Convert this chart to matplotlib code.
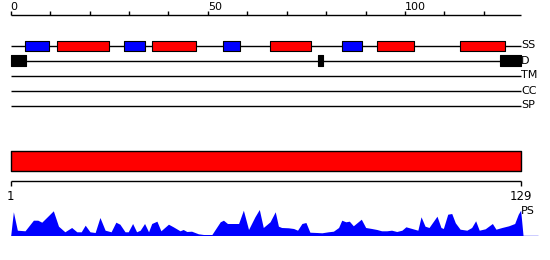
import matplotlib
matplotlib.use("Agg")
from matplotlib import pyplot as plt

# secondary structure segments (start, end) on the top ruler
helix = [(11.8, 24.9), (35.9, 46.9), (65.8, 76.1), (93.0, 102.2), (114.0, 125.3)]
strand = [(3.7, 9.8), (28.8, 34.0), (53.8, 58.1), (84.0, 89.0)]
disorder = [(0.0, 3.8), (78.0, 79.2), (124.1, 129.4)]
track_names = ["SS", "D", "TM", "CC", "SP"]
ruler_end = 129.4
ruler_ticks = list(range(0, 130, 10))
ruler_labels = [0, 50, 100]

# sequence range and per-residue profile (PS)
seq_start, seq_end = 1, 129
ps_pos = [1.0, 1.67, 2.67, 4.6, 6.7, 7.8, 8.8, 10.0, 11.7, 13.0, 14.6, 16.3, 17.6, 18.7,
          19.7, 20.9, 22.2, 23.4, 24.7, 26.2, 27.4, 28.4, 29.7, 30.5, 31.6, 32.6, 33.5,
          34.6, 35.6, 36.4, 37.7, 38.7, 40.6, 41.8, 43.5, 44.3, 45.2, 46.4, 48.1, 49.4,
          51.5, 53.6, 54.4, 55.4, 56.9, 58.2, 59.4, 60.7, 62.3, 63.4, 64.4, 66.1, 67.4,
          68.2, 69.0, 70.7, 72.0, 73.0, 74.1, 75.1, 76.1, 77.8, 79.1, 80.7, 82.0, 83.3,
          84.1, 85.1, 86.0, 87.0, 89.0, 90.1, 91.6, 92.9, 94.1, 95.4, 96.6, 97.9, 99.2,
          100.2, 101.7, 103.2, 104.0, 105.0, 106.0, 108.0, 109.0, 109.6, 110.7, 111.7,
          112.6, 113.8, 115.5, 116.7, 117.7, 118.6, 120.1, 121.9, 122.8, 124.3, 126.0,
          127.5, 128.4, 129.0, 129.6]
ps_val = [0, 23.7, 5.3, 4.7, 15.3, 15.3, 13.3, 18, 24.7, 9.3, 3.7, 8, 3.7, 3.7,
          10.3, 3.7, 3, 18, 5.3, 3.7, 13.3, 11.3, 3.7, 3.7, 12, 3.7, 5.3,
          12, 3.7, 12, 14.3, 4.7, 11.3, 8.7, 4.7, 6, 4, 4.3, 1.7, 1,
          1, 13.7, 15.3, 12, 12, 12, 25.3, 6, 18.7, 26, 8, 13.7, 23.7,
          9.3, 8, 7.7, 7, 5.3, 12, 13, 3.3, 3, 2.7, 3.7, 4.3, 8,
          15.3, 13.7, 14.3, 9.7, 16.3, 8, 7, 6, 4.7, 4.7, 5.3, 4, 5.3,
          8.7, 7, 5.3, 18.7, 9.3, 8, 19.3, 8, 7, 21.3, 22,
          12.7, 6.3, 5.3, 8, 14.7, 5.3, 6.7, 12, 6.3, 8, 9.7,
          12, 21.3, 25.3, 0]
ps_line_end = 133.4

W, H = 550, 260
fig = plt.figure(figsize=(W / 100, H / 100), dpi=100)

# top panel: ruler + tracks, y in pixel rows
ax = fig.add_axes([0, 0, 1, 1])
px = 3.943
ax.set_xlim(-10.7 / px, (W - 10.7) / px)
ax.set_ylim(H, 0)
ax.axis("off")

ax.hlines(15, 0, ruler_end, color="black", lw=1)
ax.vlines(ruler_ticks, 10.5, 15, color="black", lw=1)
for t in ruler_labels:
    ax.text(t, 11.5, str(t), ha="left", va="bottom", fontsize=8, color="black")

rows = [45.5, 60.5, 75.5, 90.5, 105.5]
for name, y in zip(track_names, rows):
    ax.hlines(y, 0, ruler_end, color="black", lw=1, zorder=1)
    ax.text(ruler_end, y, name, ha="left", va="center", fontsize=8)

ax.broken_barh([(a, b - a) for a, b in strand], (40.5, 10), facecolor="#0000ff",
               edgecolor="black", lw=0.8, zorder=2)
ax.broken_barh([(a, b - a) for a, b in helix], (40.5, 10), facecolor="#ff0000",
               edgecolor="black", lw=0.8, zorder=2)
ax.broken_barh([(a, b - a) for a, b in disorder], (55, 11), facecolor="black",
               edgecolor="black", lw=0.8, zorder=2)

# bottom panel: sequence bar + ruler, residue coordinates
ax2 = fig.add_axes([0, 0, 1, 1])
rs = 3.984
ax2.set_xlim(seq_start - 10.7 / rs, seq_start + (W - 10.7) / rs)
ax2.set_ylim(H, 0)
ax2.axis("off")
ax2.broken_barh([(seq_start, seq_end - seq_start)], (150.5, 20), facecolor="#ff0000",
                edgecolor="black", lw=1)
ax2.hlines(180.5, seq_start, seq_end, color="black", lw=1)
ax2.vlines([seq_start, seq_end], 180.5, 185.5, color="black", lw=1)
ax2.text(seq_start, 190, str(seq_start), ha="center", va="top", fontsize=8.5)
ax2.text(seq_end, 190, str(seq_end), ha="center", va="top", fontsize=8.5)
ax2.text(seq_end, 216, "PS", ha="left", va="bottom", fontsize=8)

# profile
ax3 = fig.add_axes([0, (H - 235.5) / H, 1, 30 / H])
ax3.set_xlim(seq_start - 10.7 / rs, seq_start + (W - 10.7) / rs)
ax3.set_ylim(0, 30)
ax3.axis("off")
ax3.fill_between(ps_pos, ps_val, 0, color="#0000ff", lw=0)
ax3.hlines(0, seq_start, ps_line_end, color="#0000ff", lw=1)

fig.savefig("out.png", dpi=100)
plt.close(fig)
